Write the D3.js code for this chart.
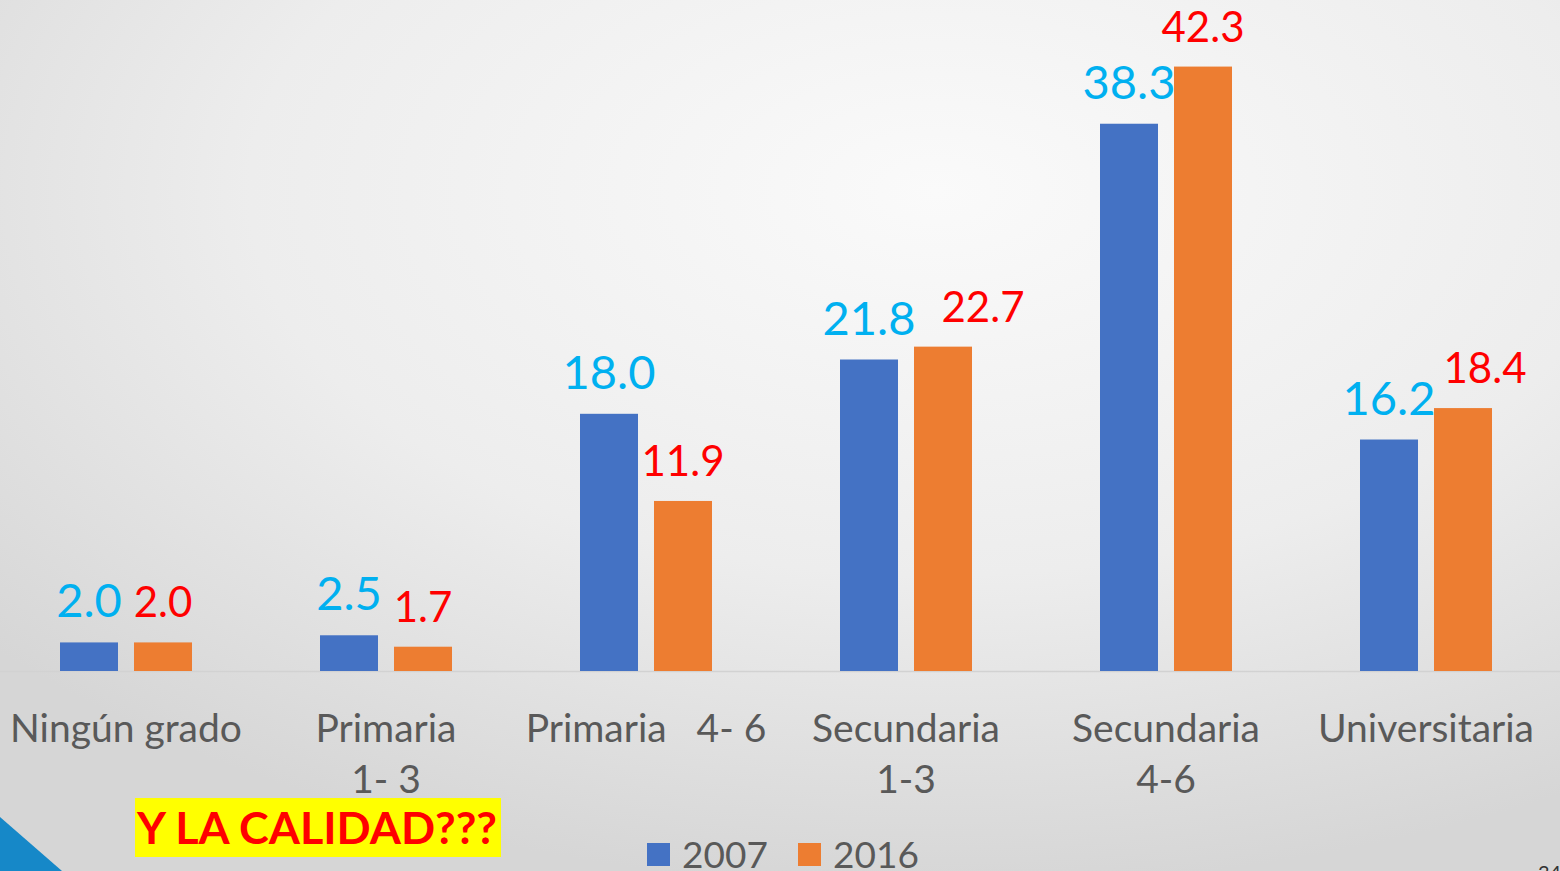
<!DOCTYPE html>
<html>
<head>
<meta charset="utf-8">
<script src="https://cdn.jsdelivr.net/npm/d3@7"></script>
<style>
  html, body { margin: 0; padding: 0; overflow: hidden; }
  svg { display: block; font-family: Lato, "Open Sans", sans-serif; }
</style>
</head>
<body>
<svg id="chart" width="1560" height="871"></svg>
<script>
// education level, percent of population
const categories = ['Ningún grado', 'Primaria 1-3', 'Primaria 4-6', 'Secundaria 1-3', 'Secundaria 4-6', 'Universitaria'];
const categoryLines = [['Ningún grado'], ['Primaria', '1- 3'], ['Primaria   4- 6'], ['Secundaria', '1-3'], ['Secundaria', '4-6'], ['Universitaria']];
const seriesNames = ['2007', '2016'];
const values2007 = [2.0, 2.5, 18.0, 21.8, 38.3, 16.2];
const values2016 = [2.0, 1.7, 11.9, 22.7, 42.3, 18.4];

const barColors = {'2007': '#4472C4', '2016': '#ED7D31'};
const labelColors = {'2007': '#00B0F0', '2016': '#FF0000'};
const labelSizes = {'2007': 47, '2016': 42};
// some 2016 labels were dragged sideways on the slide
const nudge2016 = [0, 0, 0, 40, 0, 22];

const width = 1560, height = 871;
const baseY = 671;

const svg = d3.select('#chart');

// slide background
const defs = svg.append('defs');
const grad = defs.append('radialGradient')
    .attr('id', 'bg')
    .attr('cx', '60%').attr('cy', '22%').attr('r', '80%');
grad.append('stop').attr('offset', '0%').attr('stop-color', '#fafafa');
grad.append('stop').attr('offset', '55%').attr('stop-color', '#ededed');
grad.append('stop').attr('offset', '100%').attr('stop-color', '#d6d6d6');
svg.append('rect').attr('width', width).attr('height', height).attr('fill', 'url(#bg)');

const data = categories.map((c, i) => ({
    cat: c,
    lines: categoryLines[i],
    vals: [{key: '2007', v: values2007[i], dx: 0}, {key: '2016', v: values2016[i], dx: nudge2016[i]}]
}));

const x = d3.scaleBand().domain(categories).range([-4, 1556]);
const xs = d3.scaleBand().domain(seriesNames).range([64, 196]).paddingInner(16 / 74);
const y = d3.scaleLinear().domain([0, 45]).range([baseY, 28]);

// baseline
svg.append('line')
    .attr('x1', 0).attr('x2', width)
    .attr('y1', baseY + 0.5).attr('y2', baseY + 0.5)
    .attr('stroke', '#d2d2d2').attr('stroke-width', 1.5);

const groups = svg.append('g').selectAll('g')
    .data(data)
    .join('g')
    .attr('transform', d => `translate(${x(d.cat)},0)`);

groups.selectAll('rect')
    .data(d => d.vals)
    .join('rect')
    .attr('x', d => xs(d.key))
    .attr('y', d => y(d.v))
    .attr('width', xs.bandwidth())
    .attr('height', d => baseY - y(d.v))
    .attr('fill', d => barColors[d.key]);

groups.selectAll('text.value')
    .data(d => d.vals)
    .join('text')
    .attr('class', 'value')
    .attr('x', d => xs(d.key) + xs.bandwidth() / 2 + d.dx)
    .attr('y', d => y(d.v) - 25)
    .attr('text-anchor', 'middle')
    .attr('fill', d => labelColors[d.key])
    .style('font-size', d => labelSizes[d.key] + 'px')
    .text(d => d.v.toFixed(1));

// category axis labels
groups.append('text')
    .attr('class', 'cat')
    .attr('text-anchor', 'middle')
    .attr('fill', '#595959')
    .style('font-size', '39px')
    .style('white-space', 'pre')
    .selectAll('tspan')
    .data(d => d.lines)
    .join('tspan')
    .attr('x', x.bandwidth() / 2)
    .attr('y', (d, i) => 742 + i * 51)
    .text(d => d);

// legend
const legend = svg.append('g');
const legendX = {'2007': 647, '2016': 798};
seriesNames.forEach(s => {
    legend.append('rect')
        .attr('x', legendX[s]).attr('y', 843)
        .attr('width', 23).attr('height', 23)
        .attr('fill', barColors[s]);
    legend.append('text')
        .attr('x', legendX[s] + 35).attr('y', 868)
        .attr('fill', '#595959')
        .style('font-size', '37px')
        .text(s);
});

// annotation
svg.append('rect')
    .attr('x', 135).attr('y', 798)
    .attr('width', 366).attr('height', 59)
    .attr('fill', '#FFFF00');
svg.append('text')
    .attr('x', 137).attr('y', 844)
    .attr('fill', '#FF0000')
    .attr('textLength', 360)
    .attr('lengthAdjust', 'spacingAndGlyphs')
    .style('font-size', '44px')
    .style('font-weight', 'bold')
    .text('Y LA CALIDAD???');

// slide corner decoration and page number
svg.append('path')
    .attr('d', 'M0,817 L62,871 L0,871 Z')
    .attr('fill', '#1688C8');
svg.append('text')
    .attr('x', 1538).attr('y', 880)
    .attr('fill', '#333')
    .style('font-size', '20px')
    .text('34');
</script>
</body>
</html>
